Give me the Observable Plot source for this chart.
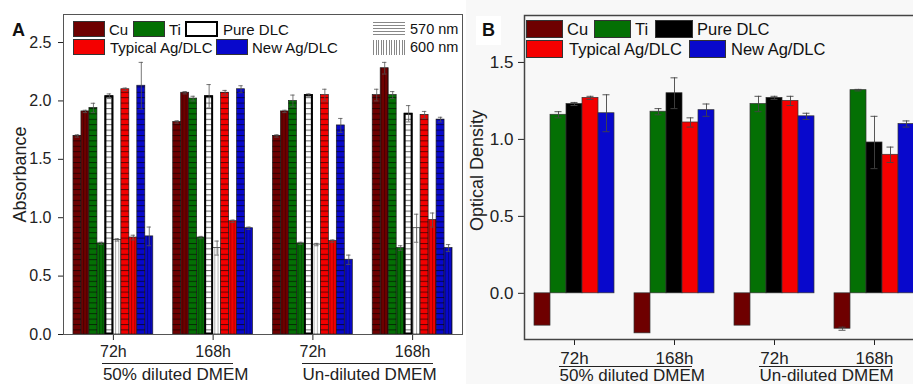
<!DOCTYPE html>
<html>
<head>
<meta charset="utf-8">
<script src="https://cdn.jsdelivr.net/npm/d3@7"></script>
<script src="https://cdn.jsdelivr.net/npm/@observablehq/plot@0.6"></script>
<style>
html,body{margin:0;padding:0;background:#fff;overflow:hidden;}
#wrap{position:relative;width:913px;height:384px;overflow:hidden;font-family:"Liberation Sans",Arial,sans-serif;color:#111;}
#panelA{position:absolute;left:0;top:0;width:470px;height:384px;}
#bgB{position:absolute;left:466px;top:0;width:447px;height:384px;background:#f8f8f8;}
#panelB{position:absolute;left:470px;top:0;width:470px;height:384px;}
.sw{position:absolute;box-sizing:border-box;border:1px solid #333;}
.tx{position:absolute;white-space:nowrap;line-height:1;}
.plab{position:absolute;font-weight:bold;}
.uline{position:absolute;height:1px;background:#222;}
</style>
</head>
<body>
<svg width="0" height="0" style="position:absolute">
  <defs>
    <pattern id="hatchH" patternUnits="userSpaceOnUse" width="8" height="5.4">
      <line x1="0" y1="0.5" x2="8" y2="0.5" stroke="#000" stroke-opacity="0.6" stroke-width="1"/>
    </pattern>
    <pattern id="hatchV" patternUnits="userSpaceOnUse" width="3.2" height="8">
      <line x1="0.5" y1="0" x2="0.5" y2="8" stroke="#000" stroke-opacity="0.45" stroke-width="0.8"/>
    </pattern>
  </defs>
</svg>
<div id="wrap">
  <div id="bgB"></div>
  <div id="panelA"></div>
  <div id="panelB"></div>
  <div id="legend"></div>
</div>
<script>
// ---------- data ----------
const timeLabels = ["72h", "168h", "72h", "168h"];
const mediumLabels = ["50% diluted DMEM", "Un-diluted DMEM"];
const materials = ["Cu", "Ti", "Pure DLC", "Typical Ag/DLC", "New Ag/DLC"];
const wavelengths = ["570 nm", "600 nm"];
const colorsA = ["#6e0000", "#047004", "#ffffff", "#f40000", "#0808cc"];
const colorsB = ["#6e0000", "#047004", "#000000", "#f40000", "#0808cc"];

// Panel A: absorbance (570 nm and 600 nm), per group 72h/168h/72h/168h
const absCu570  = [1.70, 1.82, 1.70, 2.05];
const absCu600  = [1.91, 2.07, 1.91, 2.28];
const absTi570  = [1.94, 2.02, 2.00, 2.05];
const absTi600  = [0.78, 0.83, 0.78, 0.74];
const absDLC570 = [2.04, 2.04, 2.05, 1.89];
const absDLC600 = [0.81, 0.74, 0.77, 0.91];
const absAg570  = [2.10, 2.07, 2.05, 1.88];
const absAg600  = [0.83, 0.97, 0.80, 0.98];
const absNew570 = [2.13, 2.10, 1.79, 1.84];
const absNew600 = [0.84, 0.91, 0.64, 0.74];

const errCu570  = [0.01, 0.01, 0.01, 0.05];
const errCu600  = [0.01, 0.01, 0.01, 0.05];
const errTi570  = [0.04, 0.02, 0.05, 0.03];
const errTi600  = [0.01, 0.01, 0.01, 0.02];
const errDLC570 = [0.02, 0.10, 0.01, 0.07];
const errDLC600 = [0.01, 0.06, 0.01, 0.12];
const errAg570  = [0.01, 0.02, 0.05, 0.03];
const errAg600  = [0.02, 0.01, 0.01, 0.06];
const errNew570 = [0.20, 0.03, 0.06, 0.02];
const errNew600 = [0.08, 0.01, 0.04, 0.03];

// Panel B: optical density
const odCu  = [-0.21, -0.26, -0.21, -0.23];
const odTi  = [1.16, 1.18, 1.23, 1.32];
const odDLC = [1.23, 1.30, 1.27, 0.98];
const odAg  = [1.27, 1.11, 1.25, 0.90];
const odNew = [1.17, 1.19, 1.15, 1.10];

const odErrCu  = [0.00, 0.00, 0.00, 0.01];
const odErrTi  = [0.02, 0.02, 0.05, 0.005];
const odErrDLC = [0.01, 0.10, 0.01, 0.17];
const odErrAg  = [0.01, 0.03, 0.03, 0.05];
const odErrNew = [0.12, 0.04, 0.02, 0.02];

// ---------- tables ----------
const absSeries = [
  [absCu570, absCu600], [absTi570, absTi600], [absDLC570, absDLC600],
  [absAg570, absAg600], [absNew570, absNew600]
];
const absErrs = [
  [errCu570, errCu600], [errTi570, errTi600], [errDLC570, errDLC600],
  [errAg570, errAg600], [errNew570, errNew600]
];
const barsA = [];
timeLabels.forEach((t, gi) => {
  materials.forEach((m, mi) => {
    wavelengths.forEach((w, wi) => {
      const k = mi * 2 + wi;
      const x1 = gi + 1 - 0.4 + k * 0.08;
      barsA.push({group: gi + 1, material: m, wl: w, x1, x2: x1 + 0.08, xc: x1 + 0.04,
                  value: absSeries[mi][wi][gi], err: absErrs[mi][wi][gi]});
    });
  });
});

const odSeries = [odCu, odTi, odDLC, odAg, odNew];
const odErrs = [odErrCu, odErrTi, odErrDLC, odErrAg, odErrNew];
const barsB = [];
timeLabels.forEach((t, gi) => {
  materials.forEach((m, mi) => {
    const x1 = gi + 1 - 0.4 + mi * 0.16;
    barsB.push({group: gi + 1, material: m, x1, x2: x1 + 0.16, xc: x1 + 0.08,
                value: odSeries[mi][gi], err: odErrs[mi][gi]});
  });
});

const spans = mediumLabels.map((label, i) => ({label, g1: 2 * i + 1, g2: 2 * i + 2}));

const font = "Liberation Sans, Arial, sans-serif";

// ---------- panel A ----------
const yDomA = [0, 2.74];
const plotA = Plot.plot({
  width: 470, height: 384,
  marginLeft: 63, marginRight: 8, marginTop: 14, marginBottom: 50,
  style: {fontFamily: font, fontSize: "16px", color: "#222", background: "transparent", overflow: "visible"},
  x: {domain: [0.5, 4.5], ticks: [1, 2, 3, 4], tickFormat: d => timeLabels[d - 1], tickSize: 6, tickPadding: 5, label: null},
  y: {domain: yDomA, ticks: [0, 0.5, 1, 1.5, 2, 2.5], tickFormat: d3.format(".1f"), tickSize: 5, tickPadding: 7, label: null},
  color: {domain: materials, range: colorsA},
  marks: [
    Plot.rectY(barsA, {x1: "x1", x2: "x2", y1: 0, y2: "value", fill: "material", stroke: "#222", strokeWidth: 0.7}),
    Plot.rectY(barsA.filter(d => d.wl === "570 nm"), {x1: "x1", x2: "x2", y1: 0, y2: "value", fill: "url(#hatchH)"}),
    Plot.rectY(barsA.filter(d => d.wl === "600 nm"), {x1: "x1", x2: "x2", y1: 0, y2: "value", fill: "url(#hatchV)"}),
    Plot.rectY(barsA.filter(d => d.material === "Pure DLC" && d.wl === "570 nm"),
      {x1: "x1", x2: "x2", y1: 0, y2: "value", fill: "none", stroke: "#000", strokeWidth: 2, inset: 0.5}),
    Plot.ruleX(barsA, {x: "xc", y1: d => d.value - d.err, y2: d => d.value + d.err, stroke: "#555", strokeWidth: 0.8}),
    Plot.ruleY(barsA, {y: d => d.value + d.err, x1: d => d.xc - 0.022, x2: d => d.xc + 0.022, stroke: "#555", strokeWidth: 0.8}),
    Plot.ruleY(barsA, {y: d => d.value - d.err, x1: d => d.xc - 0.022, x2: d => d.xc + 0.022, stroke: "#555", strokeWidth: 0.8}),
    Plot.frame({stroke: "#555", strokeWidth: 1}),
    Plot.text(["Absorbance"], {text: d => d, frameAnchor: "left", textAnchor: "middle", lineAnchor: "middle", rotate: -90, dx: -43, fontSize: 18, fill: "#222"}),
    Plot.text(spans, {x: d => d.g1 - 0.105, frameAnchor: "bottom", lineAnchor: "middle", text: "label", textAnchor: "start", dy: 40.5, fontSize: 17, fill: "#222"})
  ]
});
document.getElementById("panelA").appendChild(plotA);

// ---------- panel B ----------
const yDomB = [-0.3, 1.805];
const plotB = Plot.plot({
  width: 470, height: 384,
  marginLeft: 54, marginRight: 16, marginTop: 15, marginBottom: 45,
  style: {fontFamily: font, fontSize: "17px", color: "#222", background: "transparent", overflow: "visible"},
  x: {domain: [0.5, 4.5], ticks: [1, 2, 3, 4], tickFormat: d => timeLabels[d - 1], tickSize: 6, tickPadding: 6, label: null},
  y: {domain: yDomB, ticks: [0, 0.5, 1, 1.5], tickFormat: d3.format(".1f"), tickSize: 6, tickPadding: 5, label: null},
  color: {domain: materials, range: colorsB},
  marks: [
    Plot.rectY(barsB, {x1: "x1", x2: "x2", y1: 0, y2: "value", fill: "material", stroke: "#333", strokeWidth: 0.7}),
    Plot.ruleX(barsB.filter(d => d.err > 0), {x: "xc", y1: d => d.value - d.err, y2: d => d.value + d.err, stroke: "#444", strokeWidth: 0.9}),
    Plot.ruleY(barsB.filter(d => d.err > 0), {y: d => d.value + d.err, x1: d => d.xc - 0.035, x2: d => d.xc + 0.035, stroke: "#444", strokeWidth: 0.9}),
    Plot.ruleY(barsB.filter(d => d.err > 0), {y: d => d.value - d.err, x1: d => d.xc - 0.035, x2: d => d.xc + 0.035, stroke: "#444", strokeWidth: 0.9}),
    Plot.frame({stroke: "#444", strokeWidth: 1.5}),
    Plot.text(["Optical Density"], {text: d => d, frameAnchor: "left", textAnchor: "middle", lineAnchor: "middle", rotate: -90, dx: -47, dy: -7, fontSize: 18, fill: "#222"}),
    Plot.text(spans, {x: d => d.g1 - 0.15, frameAnchor: "bottom", lineAnchor: "middle", text: "label", textAnchor: "start", dy: 36, fontSize: 17, fill: "#222"})
  ]
});
document.getElementById("panelB").appendChild(plotB);

// ---------- group underlines, placed with each plot's own scales ----------
const lg = document.getElementById("legend");
function underlines(plot, offsetX, x1Off, x2Off, yBase, dy) {
  const sx = plot.scale("x"), sy = plot.scale("y");
  spans.forEach(s => {
    const a = Math.round(offsetX + sx.apply(s.g1 + x1Off)), b = Math.round(offsetX + sx.apply(s.g2 + x2Off));
    const d = document.createElement("div");
    d.className = "uline";
    Object.assign(d.style, {left: a + "px", width: (b - a) + "px", top: Math.round(sy.apply(yBase) + dy) + "px"});
    lg.appendChild(d);
  });
}
underlines(plotA, 0, -0.105, 0.205, yDomA[0], 29);
underlines(plotB, 470, -0.15, 0.175, yDomB[0], 27);

// ---------- legends (HTML overlays) ----------
function sw(left, top, w, h, bg, extra) {
  const d = document.createElement("div");
  d.className = "sw";
  Object.assign(d.style, {left: left + "px", top: top + "px", width: w + "px", height: h + "px", background: bg}, extra || {});
  lg.appendChild(d);
}
function tx(left, top, text, size) {
  const d = document.createElement("div");
  d.className = "tx";
  d.textContent = text;
  Object.assign(d.style, {left: left + "px", top: top + "px", fontSize: size + "px"});
  lg.appendChild(d);
}
// Panel A legend
sw(73, 21, 32, 16, colorsA[0]); tx(109, 22, materials[0], 15);
sw(133, 21, 32, 16, colorsA[1]); tx(169, 22, materials[1], 15);
sw(185, 21, 33, 16, "#fff", {border: "2px solid #000"}); tx(223, 22, materials[2], 15);
sw(73, 39, 32, 16, colorsA[3]); tx(110, 40, materials[3], 15);
sw(216, 39, 32, 16, colorsA[4]); tx(252, 40, materials[4], 15);
sw(373, 22, 32, 15, "repeating-linear-gradient(to bottom, #888 0 1px, #fff 1px 3px)", {border: "none"}); tx(410, 22, wavelengths[0], 14.5);
sw(373, 40, 32, 15, "repeating-linear-gradient(to right, #888 0 1px, #fff 1px 2.6px)", {border: "none"}); tx(410, 40, wavelengths[1], 14.5);
// Panel B legend
sw(526, 20, 37, 18, colorsB[0]); tx(567, 21, materials[0], 16.5);
sw(594, 20, 37, 18, colorsB[1]); tx(635, 21, materials[1], 16.5);
sw(655, 20, 38, 18, colorsB[2]); tx(697, 21, materials[2], 16.5);
sw(526, 40, 37, 18, colorsB[3]); tx(569, 41, materials[3], 16.5);
sw(689, 40, 37, 18, colorsB[4]); tx(731, 41, materials[4], 16.5);

// panel letters
const la = document.createElement("div");
la.className = "plab"; la.textContent = "A";
Object.assign(la.style, {left: "12px", top: "20px", fontSize: "18px"});
lg.appendChild(la);
const lb = document.createElement("div");
lb.className = "plab"; lb.textContent = "B";
Object.assign(lb.style, {left: "476px", top: "16px", fontSize: "18px", background: "#fff", padding: "4px 6px"});
lg.appendChild(lb);
</script>
</body>
</html>
